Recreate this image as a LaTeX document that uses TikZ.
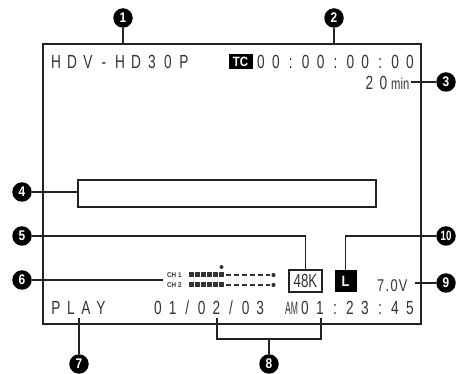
\documentclass[tikz,border=0pt]{standalone}
\usepackage{fontspec}
\setmainfont{Liberation Sans}
\newfontfamily\lcdA[FakeStretch=0.72]{Liberation Sans}
\newfontfamily\lcdAM[FakeStretch=0.48]{Liberation Sans}
\newfontfamily\lcdK[FakeStretch=0.7]{Liberation Sans}
\newfontfamily\lcdV[FakeStretch=0.75,LetterSpace=8]{Liberation Sans}
\newfontfamily\lcdB[FakeStretch=0.85]{Liberation Sans}
\newfontfamily\lcdN[FakeStretch=0.72]{Liberation Sans}
\newfontfamily\lcdCH[FakeStretch=0.9]{Liberation Sans}
\definecolor{txt}{HTML}{333333}
\definecolor{lin}{HTML}{222222}
\begin{document}
\begin{tikzpicture}[x=1pt,y=-1pt,
  lcdchar/.style={anchor=base, inner sep=0pt, text=txt, font=\lcdA\fontsize{19}{19}\selectfont},
  callout/.style={circle, fill=black, inner sep=0pt, minimum size=19.5pt, text=white, font=\lcdB\bfseries\fontsize{14}{14}\selectfont},
  cline/.style={draw=lin, line width=1.5pt},
  darkbox/.style={fill=black, inner sep=0pt, text=white, font=\lcdB\bfseries\fontsize{13.5}{13.5}\selectfont},
  meter/.style={fill=txt},
  chlab/.style={anchor=base west, inner sep=0pt, text=txt, font=\lcdCH\bfseries\fontsize{7}{7}\selectfont},
  dashl/.style={draw=txt, line width=1.4pt, dash pattern=on 5pt off 3pt},
]
\useasboundingbox (0,0) rectangle (456,374);

% screen frame
\node[draw=lin, line width=2pt, minimum width=378pt, minimum height=280.5pt, inner sep=0pt] (frame) at (231.5,184.25) {};

% top line
\foreach \ch [count=\i from 0] in {H,D,V,-,H,D,3,0,P}
  \node[lcdchar] (hdv\i) at ({56+16*\i},68.5) {\ch};
\node[darkbox, minimum width=24pt, minimum height=15.5pt] (tc) at (240.5,61.5) {TC};
\foreach \ch [count=\i from 0] in {0,0,:,0,0,:,0,0,:,0,0}
  \node[lcdchar] (tcode\i) at ({261+14.9*\i},68.5) {\ch};

% remaining time
\node[lcdchar] (rem0) at (369.5,90) {2};
\node[lcdchar] (rem1) at (383.5,90) {0};
\node[anchor=base west, inner sep=0pt, text=txt, font=\lcdK\fontsize{16}{16}\selectfont] (min) at (391,90) {min};

% message box
\node[draw=lin, line width=1.2pt, minimum width=298pt, minimum height=27pt, inner sep=0pt] (box4) at (227,193.5) {};

% audio meter
\node[chlab] (ch1) at (167,277.3) {CH 1};
\node[chlab] (ch2) at (167,287.3) {CH 2};
\foreach \i in {0,...,5} {
  \fill[meter] ({189+6*\i},272.5) rectangle ({193.8+6*\i},277.5);
  \fill[meter] ({189+6*\i},282.5) rectangle ({193.8+6*\i},287.5);
}
\fill[txt] (221.5,267) circle (2);
\draw[dashl] (226,275) -- (270,275);
\draw[dashl] (226,285) -- (270,285);
\fill[txt] (273.5,275) circle (2.1);
\fill[txt] (273.5,285) circle (2.1);

% 48K and L boxes
\node[draw=lin, fill=white, line width=1.2pt, minimum width=33pt, minimum height=22pt, inner sep=0pt, text=txt, font=\lcdK\fontsize{19}{19}\selectfont] (k48) at (305.5,281) {48K};
\node[darkbox, minimum width=22pt, minimum height=22pt, font=\lcdB\bfseries\fontsize{15}{15}\selectfont] (lbox) at (345.5,281) {L};
\node[anchor=base west, inner sep=0pt, text=txt, font=\lcdV\fontsize{17}{17}\selectfont] (volt) at (377,292) {7.0V};

% bottom line
\foreach \ch [count=\i from 0] in {P,L,A,Y}
  \node[lcdchar] (play\i) at ({56+15*\i},315) {\ch};
\foreach \ch [count=\i from 0] in {0,1,/,0,2,/,0,3}
  \node[lcdchar] (date\i) at ({158+14.6*\i},315) {\ch};
\node[anchor=base west, inner sep=0pt, text=txt, font=\lcdAM\fontsize{18}{18}\selectfont] (am) at (285,315) {AM};
\foreach \ch [count=\i from 0] in {0,1,:,2,3,:,4,5}
  \node[lcdchar] (time\i) at ({305+15*\i},315) {\ch};

% callout markers
\node[callout] (c1) at (123,18) {1};
\node[callout] (c2) at (334,18) {2};
\node[callout] (c3) at (446,82) {3};
\node[callout] (c4) at (22,192) {4};
\node[callout] (c5) at (22,236) {5};
\node[callout] (c6) at (22,280) {6};
\node[callout] (c7) at (79,364) {7};
\node[callout] (c8) at (269,364) {8};
\node[callout] (c9) at (446,283) {9};
\node[callout, font=\lcdN\bfseries\fontsize{13.5}{13.5}\selectfont] (c10) at (446,236) {10};

% connector end points
\coordinate (p3) at (411,82);
\coordinate (p6) at (163,280);
\coordinate (p7) at (79,318);
\coordinate (p9) at (415,283);
\coordinate (b8l) at (217,318);
\coordinate (b8r) at (321,318);
\coordinate (b8m) at (269,339);

% connectors
\draw[cline] (c1) -- (c1 |- frame.north);
\draw[cline] (c2) -- (c2 |- frame.north);
\draw[cline] (c3) -- (p3);
\draw[cline] (c4) -- (c4 -| box4.west);
\draw[cline] (c5) -| (k48.north);
\draw[cline] (c6) -- (p6);
\draw[cline] (c7) -- (p7);
\draw[cline] (b8l) |- (b8m) -| (b8r);
\draw[cline] (b8m) -- (c8);
\draw[cline] (c9) -- (p9);
\draw[cline] (c10) -| (lbox.north);
\end{tikzpicture}
\end{document}
